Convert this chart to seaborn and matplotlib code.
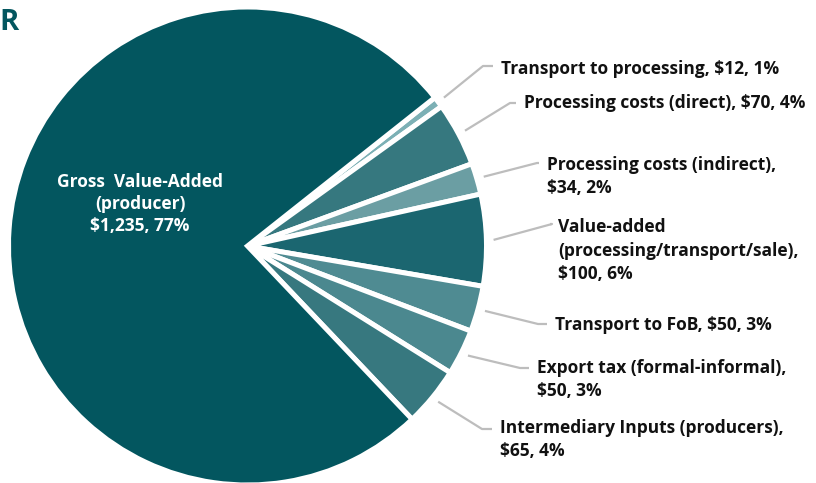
import numpy as np
import matplotlib
matplotlib.use("Agg")
import matplotlib.pyplot as plt
import seaborn as sns

sns.set_theme(style="white")
plt.rcParams["font.family"] = ["Open Sans", "DejaVu Sans"]

# Value chain components (USD), clockwise from the top-right
categories = [
    "Transport to processing",
    "Processing costs (direct)",
    "Processing costs (indirect)",
    "Value-added (processing/transport/sale)",
    "Transport to FoB",
    "Export tax (formal-informal)",
    "Intermediary Inputs (producers)",
    "Gross Value-Added (producer)",
]
values = [12, 70, 34, 100, 50, 50, 65, 1235]
pct_labels = ["1%", "4%", "2%", "6%", "3%", "3%", "4%", "77%"]
label_texts = [
    "Transport to processing, $12, 1%",
    "Processing costs (direct), $70, 4%",
    "Processing costs (indirect),\n$34, 2%",
    "Value-added\n(processing/transport/sale),\n$100, 6%",
    "Transport to FoB, $50, 3%",
    "Export tax (formal-informal),\n$50, 3%",
    "Intermediary Inputs (producers),\n$65, 4%",
    "Gross  Value-Added\n(producer)\n$1,235, 77%",
]
colors = ["#7cb0b5", "#36787f", "#6b9ea3", "#1b6670", "#4f8b92",
          "#4b888f", "#37787f", "#03565f"]

W, H = 816, 483
fig = plt.figure(figsize=(W / 100, H / 100), dpi=100)
ax = fig.add_axes([0, 0, 1, 1])

# pixel scale: pie centre and radius in canvas pixels
cx, cy, R = 247.5, 246, 239


def to_data(px, py):
    return (px - cx) / R, (cy - py) / R


wedges, _ = ax.pie(
    values, colors=colors, startangle=38.4, counterclock=False,
    radius=1.0, center=(0, 0), frame=False,
    wedgeprops=dict(edgecolor="white", linewidth=3.6),
)
ax.set_xlim(to_data(0, 0)[0], to_data(W, 0)[0])
ax.set_ylim(to_data(0, H)[1], to_data(0, 0)[1])
ax.set_aspect("auto")
ax.axis("off")

# label anchors in pixel layout: (elbow x, elbow y, text x, text y of first line)
layout = [
    (483, 66, 501, 69),
    (510, 103, 524, 103),
    (537, 163, 547, 165),
    (552, 224, 558, 227),
    (538, 324, 555, 325),
    (520, 368, 537, 368),
    (482, 429, 500, 428),
]
fs = 12.5
line_px = 23.5
for w, txt, (ex, ey, tx, ty) in zip(wedges[:-1], label_texts[:-1], layout):
    mid = np.deg2rad((w.theta1 + w.theta2) / 2)
    sx, sy = 1.03 * np.cos(mid), 1.03 * np.sin(mid)
    exd, eyd = to_data(ex, ey)
    hx, _ = to_data(tx - 8, ty)
    ax.plot([sx, exd, hx], [sy, eyd, eyd], color="#bdbdbd", lw=1.6,
            solid_capstyle="butt", zorder=1)
    for i, line in enumerate(txt.split("\n")):
        ax.text(*to_data(tx, ty + i * line_px), line, fontsize=fs,
                fontweight="bold", color="#111111", ha="left", va="center")

# label inside the dominant slice
for i, line in enumerate(label_texts[-1].split("\n")):
    ax.text(*to_data(140, 182 + i * 22), line, fontsize=fs,
            fontweight="bold", color="white", ha="center", va="center")

ax.text(*to_data(-1, 23), "R", fontsize=21, fontweight="bold",
        color="#03565f", ha="left", va="center")

fig.savefig("out.png", dpi=100)
